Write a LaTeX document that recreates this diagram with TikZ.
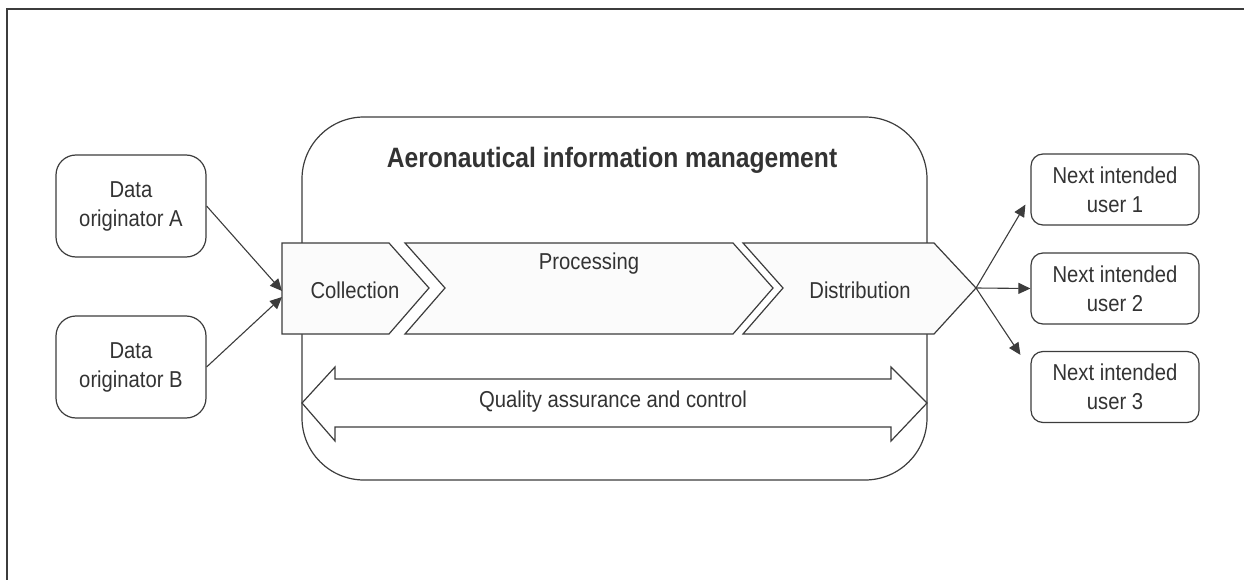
\documentclass[tikz,border=0pt]{standalone}
\usepackage{fontspec}
\setmainfont[FakeStretch=0.88]{Liberation Sans}
\usepackage{tikz}
\usetikzlibrary{arrows.meta}
\definecolor{ink}{HTML}{333333}
\definecolor{edge}{HTML}{3C3C3C}
\definecolor{chevFill}{HTML}{FBFBFB}
\tikzset{
  lab/.style={text=ink, font=\fontsize{23}{29}\selectfont, align=center},
  titleLab/.style={text=ink, font=\fontsize{28}{32}\selectfont\bfseries},
  srcBox/.style={lab, draw=edge, line width=1.2pt, rounded corners=20pt, minimum width=150pt, minimum height=102pt},
  userBox/.style={lab, draw=edge, line width=1.2pt, rounded corners=12pt, minimum width=168pt, minimum height=71pt},
  chevLine/.style={draw=edge, line width=1.2pt, fill=chevFill, line join=miter},
  flowArrow/.style={draw=edge, line width=1.1pt, -{Triangle[length=12pt,width=11pt]}}
}

\begin{document}
\begin{tikzpicture}[x=1pt,y=-1pt]
  \useasboundingbox (0,0) rectangle (1244,580);
  % Frame
  \draw[edge, line width=1.5pt] (7,580) -- (7,9) -- (1244,9);

  % AIM container
  \draw[edge, line width=1.2pt, rounded corners=62pt] (302,117) rectangle (927,480);
  \node[titleLab] (aim) at (612,160) {Aeronautical information management};

  % Chevrons
  \draw[chevLine] (282,243) -- (389,243) -- (429,288) -- (389,334) -- (282,334) -- cycle;
  \draw[chevLine] (405,243) -- (733,243) -- (773,288) -- (733,334) -- (405,334) -- (445,288) -- cycle;
  \draw[chevLine] (743,243) -- (934,243) -- (976,288) -- (934,334) -- (743,334) -- (783,288) -- cycle;
  \node[lab] (coll) at (355,290) {Collection};
  \node[lab] (proc) at (589,264) {Processing};
  \node[lab] (dist) at (860,290) {Distribution};
  \coordinate (collInA) at (282,291);
  \coordinate (collInB) at (282,297);
  \coordinate (distTip) at (976,288);

  % Quality assurance
  \draw[chevLine, fill=white] (302,403) -- (335,367) -- (335,379) -- (891,379) -- (891,367)
    -- (927,403) -- (891,441) -- (891,427) -- (335,427) -- (335,441) -- cycle;
  \node[lab] (qa) at (613,402) {Quality assurance and control};

  % Originators
  \node[srcBox] (origA) at (131,206) {Data\\originator A};
  \node[srcBox] (origB) at (131,367) {Data\\originator B};
  \draw[flowArrow] (origA.east) -- (collInA);
  \draw[flowArrow] (origB.east) -- (collInB);

  % Users
  \node[userBox] (user1) at (1115,189.5) {Next intended\\user 1};
  \node[userBox] (user2) at (1115,288.5) {Next intended\\user 2};
  \node[userBox] (user3) at (1115,387) {Next intended\\user 3};
  \draw[flowArrow] (distTip) -- ([xshift=-5pt,yshift=21pt]user1.south west);
  \draw[flowArrow] (distTip) -- (user2.west);
  \draw[flowArrow] (distTip) -- ([xshift=-10pt,yshift=-4pt]user3.north west);
\end{tikzpicture}
\end{document}
